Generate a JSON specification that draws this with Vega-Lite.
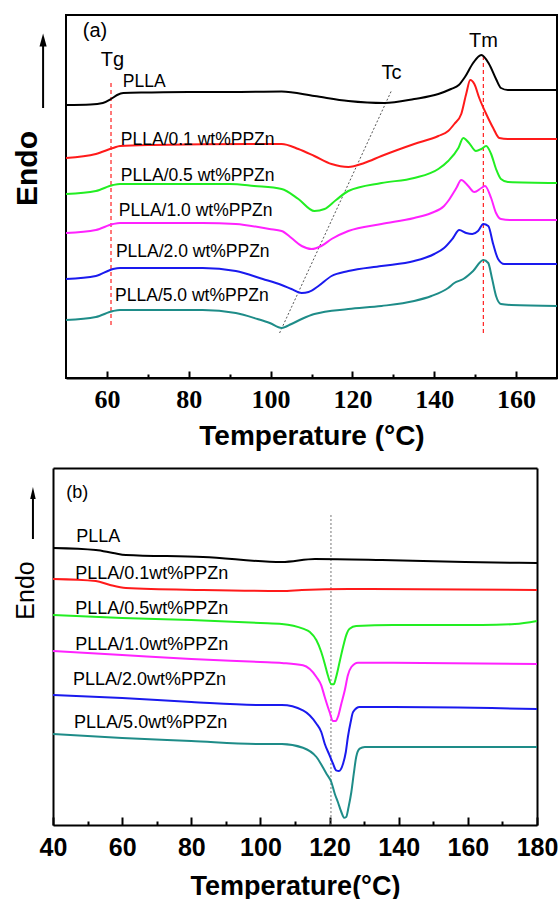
{
  "$schema": "https://vega.github.io/schema/vega-lite/v6.json",
  "background": "white",
  "padding": {"left": 11, "top": 14, "right": 0, "bottom": 0},
  "config": {"view": {"stroke": "black", "strokeWidth": 2}, "font": "Liberation Sans"},
  "datasets": {
    "a": [
      {"s":"PLLA","T":50,"y":273},{"s":"PLLA","T":56,"y":273.5},{"s":"PLLA","T":59,"y":275},{"s":"PLLA","T":61,"y":279},{"s":"PLLA","T":62.5,"y":283},{"s":"PLLA","T":64,"y":285},{"s":"PLLA","T":70,"y":285.5},{"s":"PLLA","T":80,"y":286},{"s":"PLLA","T":90,"y":286},{"s":"PLLA","T":102.7,"y":286.5},{"s":"PLLA","T":110.7,"y":282},{"s":"PLLA","T":119,"y":277},{"s":"PLLA","T":127.8,"y":275},{"s":"PLLA","T":135.1,"y":279},{"s":"PLLA","T":141,"y":284},{"s":"PLLA","T":144.1,"y":289},{"s":"PLLA","T":146,"y":293},{"s":"PLLA","T":147.5,"y":301},{"s":"PLLA","T":149.5,"y":315},{"s":"PLLA","T":151.5,"y":323},{"s":"PLLA","T":153.4,"y":314},{"s":"PLLA","T":155.1,"y":299},{"s":"PLLA","T":156.3,"y":290},{"s":"PLLA","T":158,"y":288},{"s":"PLLA","T":165,"y":288},{"s":"PLLA","T":170,"y":288},
      {"s":"0.1","T":50,"y":220},{"s":"0.1","T":57.3,"y":224},{"s":"0.1","T":61.5,"y":230},{"s":"0.1","T":63.2,"y":232},{"s":"0.1","T":71.2,"y":233},{"s":"0.1","T":95.6,"y":234},{"s":"0.1","T":102.7,"y":234},{"s":"0.1","T":106.8,"y":229},{"s":"0.1","T":110.7,"y":222},{"s":"0.1","T":114.9,"y":214},{"s":"0.1","T":119,"y":211},{"s":"0.1","T":122.9,"y":215},{"s":"0.1","T":127.1,"y":222},{"s":"0.1","T":135.1,"y":234},{"s":"0.1","T":141,"y":242},{"s":"0.1","T":143.4,"y":247},{"s":"0.1","T":144.9,"y":254},{"s":"0.1","T":146.6,"y":264},{"s":"0.1","T":147.8,"y":284},{"s":"0.1","T":148.8,"y":298},{"s":"0.1","T":149.8,"y":294},{"s":"0.1","T":151,"y":280},{"s":"0.1","T":152.7,"y":264},{"s":"0.1","T":154.4,"y":250},{"s":"0.1","T":155.9,"y":240},{"s":"0.1","T":158,"y":239},{"s":"0.1","T":170,"y":239},
      {"s":"0.5","T":50,"y":184},{"s":"0.5","T":57.3,"y":187},{"s":"0.5","T":61.5,"y":193},{"s":"0.5","T":63.2,"y":194},{"s":"0.5","T":80,"y":194},{"s":"0.5","T":90,"y":194},{"s":"0.5","T":96,"y":192},{"s":"0.5","T":102.7,"y":189},{"s":"0.5","T":106.8,"y":179},{"s":"0.5","T":110.7,"y":167},{"s":"0.5","T":113.2,"y":169},{"s":"0.5","T":116,"y":178},{"s":"0.5","T":119,"y":187},{"s":"0.5","T":127.1,"y":195},{"s":"0.5","T":135.1,"y":200},{"s":"0.5","T":141,"y":209},{"s":"0.5","T":143.4,"y":217},{"s":"0.5","T":145.9,"y":230},{"s":"0.5","T":147.1,"y":240},{"s":"0.5","T":148.5,"y":235},{"s":"0.5","T":150.2,"y":227},{"s":"0.5","T":151.5,"y":229},{"s":"0.5","T":152.7,"y":232},{"s":"0.5","T":153.9,"y":224},{"s":"0.5","T":155.1,"y":209},{"s":"0.5","T":156.3,"y":199},{"s":"0.5","T":158,"y":196},{"s":"0.5","T":170,"y":195},
      {"s":"1.0","T":50,"y":145},{"s":"1.0","T":57.3,"y":148},{"s":"1.0","T":61.5,"y":154},{"s":"1.0","T":63.2,"y":155},{"s":"1.0","T":83.4,"y":155},{"s":"1.0","T":91.5,"y":154},{"s":"1.0","T":99.7,"y":149},{"s":"1.0","T":102.7,"y":147},{"s":"1.0","T":105.1,"y":140},{"s":"1.0","T":107.6,"y":132},{"s":"1.0","T":110,"y":129},{"s":"1.0","T":112.4,"y":132},{"s":"1.0","T":114.9,"y":139},{"s":"1.0","T":119,"y":147},{"s":"1.0","T":127.1,"y":154},{"s":"1.0","T":135.1,"y":160},{"s":"1.0","T":139.3,"y":165},{"s":"1.0","T":142.4,"y":172},{"s":"1.0","T":143.4,"y":177},{"s":"1.0","T":145.4,"y":190},{"s":"1.0","T":146.6,"y":198},{"s":"1.0","T":148.3,"y":192},{"s":"1.0","T":149.8,"y":186},{"s":"1.0","T":151.5,"y":190},{"s":"1.0","T":152.4,"y":192},{"s":"1.0","T":153.9,"y":180},{"s":"1.0","T":155.1,"y":165},{"s":"1.0","T":156.3,"y":159},{"s":"1.0","T":158.8,"y":158},{"s":"1.0","T":170,"y":158},
      {"s":"2.0","T":50,"y":99},{"s":"2.0","T":57.3,"y":102},{"s":"2.0","T":61.5,"y":109},{"s":"2.0","T":63.2,"y":110},{"s":"2.0","T":83.4,"y":110},{"s":"2.0","T":91.5,"y":107},{"s":"2.0","T":98.1,"y":99},{"s":"2.0","T":102.7,"y":93},{"s":"2.0","T":105.1,"y":89},{"s":"2.0","T":107.6,"y":85},{"s":"2.0","T":109.3,"y":86},{"s":"2.0","T":111.7,"y":92},{"s":"2.0","T":114.9,"y":102},{"s":"2.0","T":119,"y":107},{"s":"2.0","T":127.1,"y":112},{"s":"2.0","T":135.1,"y":117},{"s":"2.0","T":140,"y":124},{"s":"2.0","T":142.4,"y":130},{"s":"2.0","T":144.6,"y":140},{"s":"2.0","T":146.1,"y":148},{"s":"2.0","T":147.8,"y":145},{"s":"2.0","T":149.3,"y":144},{"s":"2.0","T":150.7,"y":147},{"s":"2.0","T":152,"y":154},{"s":"2.0","T":153.2,"y":152},{"s":"2.0","T":154.4,"y":134},{"s":"2.0","T":155.6,"y":119},{"s":"2.0","T":157.1,"y":114},{"s":"2.0","T":170,"y":114},
      {"s":"5.0","T":50,"y":58},{"s":"5.0","T":57.3,"y":61},{"s":"5.0","T":61.5,"y":67},{"s":"5.0","T":63.2,"y":68},{"s":"5.0","T":83.4,"y":68},{"s":"5.0","T":91.5,"y":65},{"s":"5.0","T":96.8,"y":59},{"s":"5.0","T":99.8,"y":55},{"s":"5.0","T":102.7,"y":50},{"s":"5.0","T":105.1,"y":54},{"s":"5.0","T":107.6,"y":59},{"s":"5.0","T":110.7,"y":64},{"s":"5.0","T":119,"y":69},{"s":"5.0","T":127.1,"y":72},{"s":"5.0","T":135.1,"y":77},{"s":"5.0","T":139.3,"y":82},{"s":"5.0","T":143.4,"y":90},{"s":"5.0","T":144.9,"y":95},{"s":"5.0","T":147.1,"y":99},{"s":"5.0","T":149.5,"y":107},{"s":"5.0","T":152,"y":118},{"s":"5.0","T":153.2,"y":115},{"s":"5.0","T":154.1,"y":100},{"s":"5.0","T":155.1,"y":82},{"s":"5.0","T":156.3,"y":74},{"s":"5.0","T":158.8,"y":73},{"s":"5.0","T":170,"y":72}
    ],
    "aRef": [
      {"k":"Tg","T":61,"T2":61,"y":53,"y2":298},
      {"k":"Tm","T":152,"T2":152,"y":45,"y2":324},
      {"k":"Tc","T":102.2,"T2":129.5,"y":45,"y2":287}
    ],
    "aLab": [
      {"g":"mark","T":54.1,"y":347,"text":"(a)"},
      {"g":"mark","T":58.5,"y":318,"text":"Tg"},
      {"g":"mark","T":127.1,"y":305,"text":"Tc"},
      {"g":"mark","T":148.5,"y":337,"text":"Tm"},
      {"g":"series","T":63.9,"y":296.5,"text":"PLLA"},
      {"g":"series","T":63.4,"y":238,"text":"PLLA/0.1 wt%PPZn"},
      {"g":"series","T":63.4,"y":202.5,"text":"PLLA/0.5 wt%PPZn"},
      {"g":"series","T":62.9,"y":167,"text":"PLLA/1.0 wt%PPZn"},
      {"g":"series","T":62.2,"y":126.5,"text":"PLLA/2.0 wt%PPZn"},
      {"g":"series","T":62.0,"y":82.5,"text":"PLLA/5.0 wt%PPZn"}
    ],
    "aArrow": [{"T":44.4,"y":270,"y2":333,"tip":338}],
    "b": [
      {"s":"PLLA","T":40,"y":277},{"s":"PLLA","T":52.4,"y":275},{"s":"PLLA","T":57.4,"y":272},{"s":"PLLA","T":61.1,"y":270},{"s":"PLLA","T":83.4,"y":268},{"s":"PLLA","T":106.2,"y":263},{"s":"PLLA","T":115.8,"y":266},{"s":"PLLA","T":135.2,"y":265},{"s":"PLLA","T":159.2,"y":263},{"s":"PLLA","T":180,"y":262},
      {"s":"0.1","T":40,"y":246},{"s":"0.1","T":52.4,"y":244},{"s":"0.1","T":56.5,"y":240},{"s":"0.1","T":61.1,"y":237},{"s":"0.1","T":83.4,"y":235},{"s":"0.1","T":106.2,"y":234},{"s":"0.1","T":112,"y":235},{"s":"0.1","T":125.6,"y":236},{"s":"0.1","T":180,"y":235},
      {"s":"0.5","T":40,"y":210},{"s":"0.5","T":60,"y":207},{"s":"0.5","T":80,"y":205},{"s":"0.5","T":100,"y":202},{"s":"0.5","T":106.2,"y":201},{"s":"0.5","T":112.3,"y":196.3},{"s":"0.5","T":114.3,"y":193},{"s":"0.5","T":116.2,"y":184.7},{"s":"0.5","T":117.6,"y":173},{"s":"0.5","T":118.6,"y":161.3},{"s":"0.5","T":119.5,"y":149.7},{"s":"0.5","T":120.5,"y":140.7},{"s":"0.5","T":121.2,"y":140.7},{"s":"0.5","T":121.9,"y":148},{"s":"0.5","T":122.9,"y":163},{"s":"0.5","T":123.9,"y":178},{"s":"0.5","T":124.8,"y":189.7},{"s":"0.5","T":125.8,"y":196.3},{"s":"0.5","T":127.7,"y":199},{"s":"0.5","T":138.4,"y":200},{"s":"0.5","T":164.1,"y":200},{"s":"0.5","T":173.6,"y":201},{"s":"0.5","T":180,"y":204},
      {"s":"1.0","T":40,"y":174},{"s":"1.0","T":60,"y":170},{"s":"1.0","T":80,"y":166},{"s":"1.0","T":100,"y":163},{"s":"1.0","T":106.2,"y":162},{"s":"1.0","T":112.3,"y":159.7},{"s":"1.0","T":116.2,"y":148},{"s":"1.0","T":117.6,"y":139.7},{"s":"1.0","T":118.6,"y":128},{"s":"1.0","T":120,"y":113},{"s":"1.0","T":121,"y":104},{"s":"1.0","T":121.8,"y":104},{"s":"1.0","T":122.4,"y":108},{"s":"1.0","T":123.4,"y":121.3},{"s":"1.0","T":124.4,"y":134.7},{"s":"1.0","T":125.3,"y":149.7},{"s":"1.0","T":126.3,"y":158},{"s":"1.0","T":128.2,"y":162.3},{"s":"1.0","T":138.4,"y":162.3},{"s":"1.0","T":180,"y":161},
      {"s":"2.0","T":40,"y":130},{"s":"2.0","T":60,"y":127},{"s":"2.0","T":80,"y":123},{"s":"2.0","T":100,"y":120},{"s":"2.0","T":106.2,"y":120},{"s":"2.0","T":112.3,"y":114.7},{"s":"2.0","T":116.2,"y":101.3},{"s":"2.0","T":117.6,"y":93},{"s":"2.0","T":118.6,"y":81.3},{"s":"2.0","T":120,"y":69.7},{"s":"2.0","T":121,"y":61.3},{"s":"2.0","T":121.9,"y":54.7},{"s":"2.0","T":122.7,"y":54},{"s":"2.0","T":123.9,"y":61.3},{"s":"2.0","T":124.7,"y":73},{"s":"2.0","T":125.3,"y":88},{"s":"2.0","T":126.1,"y":103},{"s":"2.0","T":126.8,"y":113},{"s":"2.0","T":128.7,"y":118},{"s":"2.0","T":138.4,"y":118},{"s":"2.0","T":180,"y":116},
      {"s":"5.0","T":40,"y":91},{"s":"5.0","T":60,"y":87},{"s":"5.0","T":80,"y":84},{"s":"5.0","T":100,"y":81},{"s":"5.0","T":106.2,"y":81},{"s":"5.0","T":112.3,"y":77.3},{"s":"5.0","T":116.2,"y":68},{"s":"5.0","T":119.1,"y":51.3},{"s":"5.0","T":120.5,"y":43},{"s":"5.0","T":121.5,"y":31.3},{"s":"5.0","T":122.4,"y":23},{"s":"5.0","T":123.4,"y":13},{"s":"5.0","T":124.2,"y":7.3},{"s":"5.0","T":124.8,"y":8},{"s":"5.0","T":125.5,"y":18},{"s":"5.0","T":126.3,"y":33},{"s":"5.0","T":127,"y":51.3},{"s":"5.0","T":127.7,"y":68},{"s":"5.0","T":128.7,"y":76.3},{"s":"5.0","T":130.2,"y":78},{"s":"5.0","T":138.4,"y":78},{"s":"5.0","T":180,"y":78}
    ],
    "bRef": [{"T":120.4,"y":0,"y2":310}],
    "bLab": [
      {"T":43.8,"y":332,"text":"(b)"},
      {"T":46.7,"y":288,"text":"PLLA"},
      {"T":46.4,"y":251.5,"text":"PLLA/0.1wt%PPZn"},
      {"T":46.4,"y":216.5,"text":"PLLA/0.5wt%PPZn"},
      {"T":46.4,"y":180.5,"text":"PLLA/1.0wt%PPZn"},
      {"T":45.8,"y":145.5,"text":"PLLA/2.0wt%PPZn"},
      {"T":46.1,"y":102.5,"text":"PLLA/5.0wt%PPZn"}
    ],
    "bArrow": [{"T":34.2,"y":286,"y2":328,"tip":332}]
  },
  "concat": [
    {
      "width": 491, "height": 363,
      "layer": [
        {
          "data": {"name": "aRef"},
          "transform": [{"filter": "datum.k != 'Tc'"}],
          "mark": {"type": "rule", "color": "#ff2020", "strokeWidth": 1.2, "strokeDash": [4, 3]},
          "encoding": {"x": {"field": "T", "type": "quantitative"}, "x2": {"field": "T2"}, "y": {"field": "y", "type": "quantitative"}, "y2": {"field": "y2"}}
        },
        {
          "data": {"name": "aRef"},
          "transform": [{"filter": "datum.k == 'Tc'"}],
          "mark": {"type": "rule", "color": "#555555", "strokeWidth": 1, "strokeDash": [2, 2]},
          "encoding": {"x": {"field": "T", "type": "quantitative"}, "x2": {"field": "T2"}, "y": {"field": "y", "type": "quantitative"}, "y2": {"field": "y2"}}
        },
        {
          "data": {"name": "a"},
          "mark": {"type": "line", "strokeWidth": 2, "interpolate": "monotone"},
          "encoding": {
            "x": {"field": "T", "type": "quantitative", "scale": {"domain": [50, 170], "nice": false, "zero": false},
              "axis": {"values": [60,70,80,90,100,110,120,130,140,150,160], "labelExpr": "datum.value % 20 == 0 ? datum.label : ''",
                "tickSize": {"condition": {"test": "datum.value % 20 == 0", "value": -7}, "value": -4},
                "tickColor": "black", "tickWidth": 2, "domainColor": "black", "domainWidth": 2, "grid": false,
                "labelFont": "Liberation Serif", "labelFontWeight": "bold", "labelFontSize": 26, "labelColor": "black", "labelPadding": 15, "labelOverlap": false,
                "title": "Temperature (°C)", "titleFont": "Liberation Sans", "titleFontWeight": "bold", "titleFontSize": 28, "titleColor": "black", "titlePadding": 7}},
            "y": {"field": "y", "type": "quantitative", "scale": {"domain": [0, 363], "nice": false, "zero": false},
              "axis": {"title": "Endo", "titleFont": "Liberation Sans", "titleFontWeight": "bold", "titleFontSize": 30, "titleColor": "black", "titleY": 153, "titlePadding": 24, "labels": false, "ticks": false, "domain": false, "grid": false}},
            "color": {"field": "s", "type": "nominal", "legend": null, "scale": {"domain": ["PLLA","0.1","0.5","1.0","2.0","5.0"], "range": ["#000000","#ff1a1a","#22ee22","#ff22ff","#1a1aee","#1e8c88"]}}
          }
        },
        {
          "data": {"name": "aLab"},
          "transform": [{"filter": "datum.g == 'mark'"}],
          "mark": {"type": "text", "align": "left", "baseline": "middle", "fontSize": 20, "font": "Liberation Sans", "color": "black"},
          "encoding": {"x": {"field": "T", "type": "quantitative"}, "y": {"field": "y", "type": "quantitative"}, "text": {"field": "text"}}
        },
        {
          "data": {"name": "aLab"},
          "transform": [{"filter": "datum.g == 'series'"}],
          "mark": {"type": "text", "align": "left", "baseline": "middle", "fontSize": 17.5, "font": "Liberation Sans", "color": "black"},
          "encoding": {"x": {"field": "T", "type": "quantitative"}, "y": {"field": "y", "type": "quantitative"}, "text": {"field": "text"}}
        },
        {
          "data": {"name": "aArrow"},
          "mark": {"type": "rule", "color": "black", "strokeWidth": 2},
          "encoding": {"x": {"field": "T", "type": "quantitative"}, "y": {"field": "y", "type": "quantitative"}, "y2": {"field": "y2"}}
        },
        {
          "data": {"name": "aArrow"},
          "mark": {"type": "point", "filled": true, "color": "black", "opacity": 1, "shape": "M0,-1L0.55,1L-0.55,1Z", "size": 170},
          "encoding": {"x": {"field": "T", "type": "quantitative"}, "y": {"field": "tip", "type": "quantitative"}}
        }
      ]
    },
    {
      "width": 471, "height": 357,
      "view": {"stroke": null},
      "resolve": {"axis": {"x": "independent", "y": "independent"}},
      "layer": [
        {
          "data": {"name": "bRef"},
          "mark": {"type": "rule", "color": "#777777", "strokeWidth": 1, "strokeDash": [2, 2]},
          "encoding": {
            "x": {"field": "T", "type": "quantitative", "axis": {"orient": "top", "labels": false, "ticks": false, "title": null, "grid": false, "domainColor": "black", "domainWidth": 2}},
            "y": {"field": "y", "type": "quantitative", "axis": null}, "y2": {"field": "y2"}}
        },
        {
          "data": {"name": "b"},
          "mark": {"type": "line", "strokeWidth": 2, "interpolate": "monotone"},
          "encoding": {
            "x": {"field": "T", "type": "quantitative", "scale": {"domain": [40, 180], "range": [-13, 471], "nice": false, "zero": false},
              "axis": {"values": [40,50,60,70,80,90,100,110,120,130,140,150,160,170,180], "labelExpr": "datum.value % 20 == 0 ? datum.label : ''",
                "tickSize": {"condition": {"test": "datum.value % 20 == 0", "value": -8}, "value": -4},
                "tickColor": "black", "tickWidth": 2, "domainColor": "black", "domainWidth": 2, "grid": false,
                "labelFont": "Liberation Sans", "labelFontWeight": "bold", "labelFontSize": 25, "labelColor": "black", "labelPadding": 18, "labelOverlap": false, "labelFlush": false,
                "title": "Temperature(°C)", "titleFont": "Liberation Sans", "titleFontWeight": "bold", "titleFontSize": 27, "titleColor": "black", "titlePadding": 9}},
            "y": {"field": "y", "type": "quantitative", "scale": {"domain": [0, 357], "nice": false, "zero": false},
              "axis": {"title": "Endo", "offset": 13, "titleFont": "Liberation Sans", "titleFontWeight": "normal", "titleFontSize": 25, "titleColor": "black", "titleY": 122, "titlePadding": 15, "labels": false, "ticks": false, "domain": true, "domainColor": "black", "domainWidth": 2, "grid": false}},
            "color": {"field": "s", "type": "nominal", "legend": null, "scale": {"domain": ["PLLA","0.1","0.5","1.0","2.0","5.0"], "range": ["#000000","#ff1a1a","#22ee22","#ff22ff","#1a1aee","#1e8c88"]}}
          }
        },
        {
          "data": {"name": "bLab"},
          "mark": {"type": "text", "align": "left", "baseline": "middle", "fontSize": 18, "font": "Liberation Sans", "color": "black"},
          "encoding": {
            "x": {"field": "T", "type": "quantitative", "axis": null},
            "y": {"field": "y", "type": "quantitative", "axis": {"orient": "right", "labels": false, "ticks": false, "title": null, "grid": false, "domainColor": "black", "domainWidth": 2}},
            "text": {"field": "text"}}
        },
        {
          "data": {"name": "bArrow"},
          "mark": {"type": "rule", "color": "black", "strokeWidth": 2},
          "encoding": {"x": {"field": "T", "type": "quantitative", "axis": null}, "y": {"field": "y", "type": "quantitative", "axis": null}, "y2": {"field": "y2"}}
        },
        {
          "data": {"name": "bArrow"},
          "mark": {"type": "point", "filled": true, "color": "black", "opacity": 1, "shape": "M0,-1L0.45,1L-0.45,1Z", "size": 150},
          "encoding": {"x": {"field": "T", "type": "quantitative", "axis": null}, "y": {"field": "tip", "type": "quantitative", "axis": null}}
        }
      ]
    }
  ],
  "columns": 1,
  "align": "none",
  "spacing": 17
}
